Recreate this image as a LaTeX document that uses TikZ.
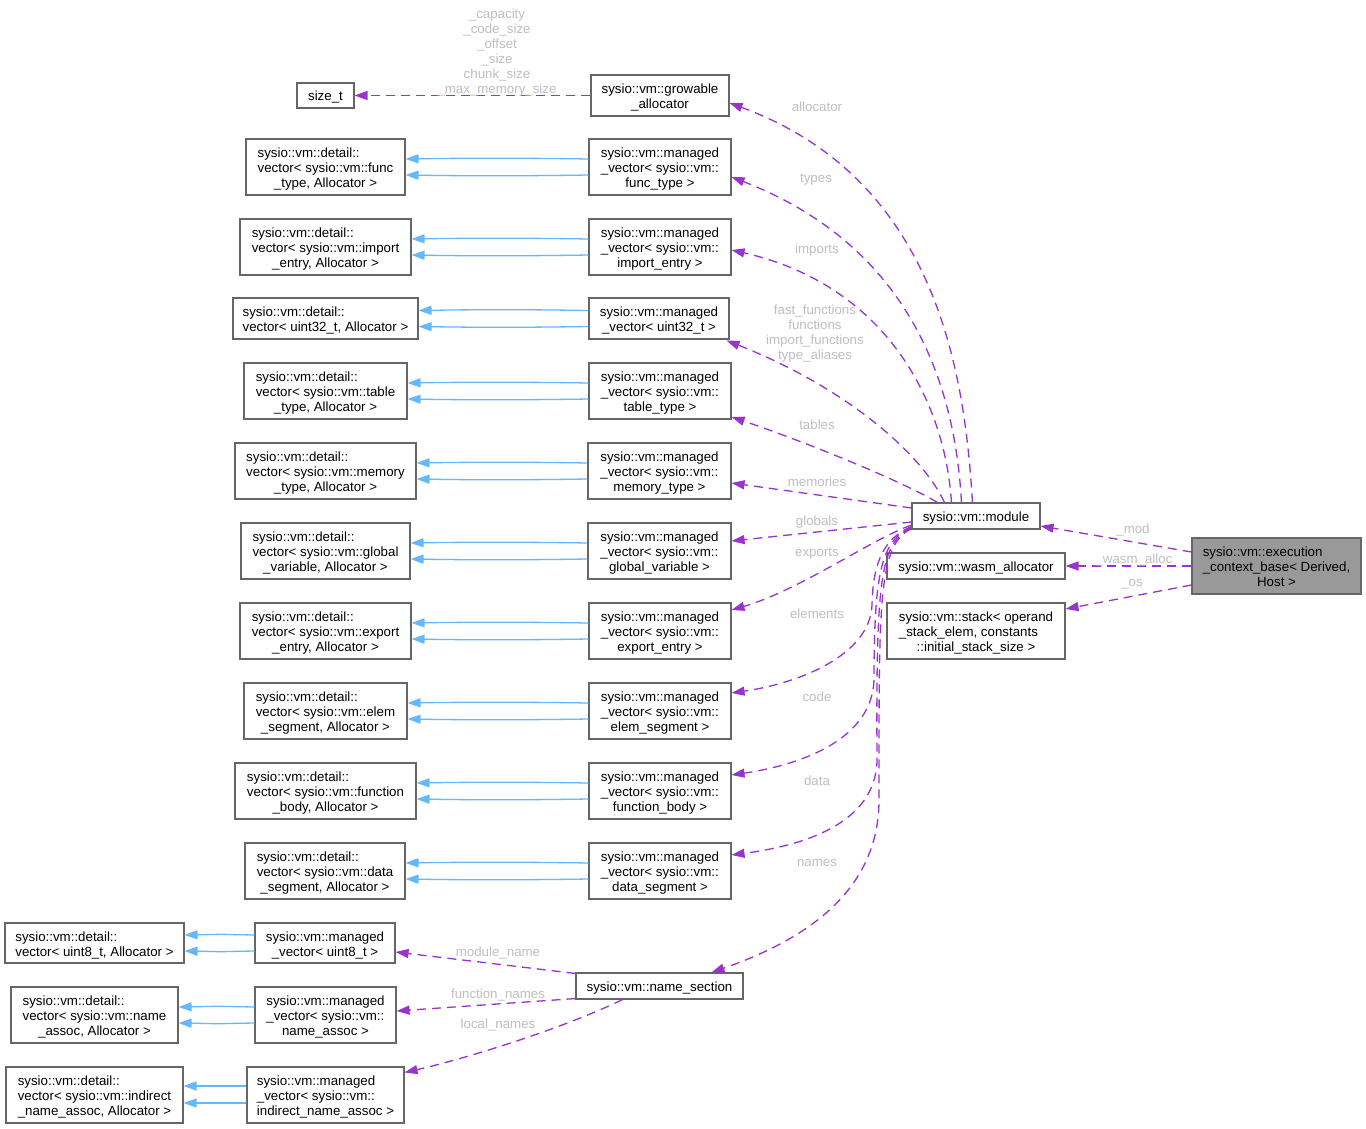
\documentclass[tikz,border=0pt]{standalone}
\usepackage{fontspec}
\setmainfont{Liberation Sans}
\usetikzlibrary{arrows.meta}
\definecolor{edgep}{HTML}{9A32CD}
\definecolor{edgeb}{HTML}{63B8FF}
\definecolor{lblc}{HTML}{BFBFBF}
\definecolor{bord}{HTML}{666666}
\definecolor{rootfill}{HTML}{999999}
\newcommand{\dlab}[2]{\raisebox{-2.5pt}[\height][\depth]{\begin{tabular}{@{}l@{}}#1\\\multicolumn{1}{@{}c@{}}{#2}\end{tabular}}}
\newcommand{\one}[1]{\raisebox{-2pt}[\height][\depth]{#1}}
\begin{document}
\begin{tikzpicture}[x=1pt,y=-1pt,
  box/.style={draw=bord, line width=1.1pt, fill=white, inner sep=0pt, font=\fontsize{13.3}{15}\selectfont, text=black},
  lab/.style={text=lblc, inner sep=0pt, font=\fontsize{13.3}{15}\selectfont, align=center},
  uses/.style={draw=edgep, line width=1.3pt, dash pattern=on 9pt off 6pt, -{Triangle[length=13pt,width=9pt]}},
  inh/.style={draw=edgeb, line width=1.3pt, -{Triangle[length=13pt,width=9pt]}},
  b56/.style={box, minimum height=56pt},
  b41/.style={box, minimum height=41pt},
  b26/.style={box, minimum height=26pt}
]
\fill[white] (0,0) rectangle (1366,1129);
\useasboundingbox (0,0) rectangle (1366,1129);

% nodes
\node[box, minimum width=57pt, minimum height=25pt] (sz) at (325.5,95.5) {\one{size\_t}};
\node[b41, minimum width=138pt] (ga) at (660,95.5) {\dlab{sysio::vm::growable}{\_allocator}};

\node[b56, minimum width=159pt] (d1) at (325.5,167) {\dlab{sysio::vm::detail::\\vector< sysio::vm::func}{\_type, Allocator >}};
\node[b56, minimum width=142pt] (m1) at (660,167) {\dlab{sysio::vm::managed\\\_vector< sysio::vm::}{func\_type >}};
\node[b56, minimum width=171pt] (d2) at (325.5,247) {\dlab{sysio::vm::detail::\\vector< sysio::vm::import}{\_entry, Allocator >}};
\node[b56, minimum width=142pt] (m2) at (660,247) {\dlab{sysio::vm::managed\\\_vector< sysio::vm::}{import\_entry >}};
\node[b41, minimum width=185pt] (d3) at (325.5,318.5) {\dlab{sysio::vm::detail::}{vector< uint32\_t, Allocator >}};
\node[b41, minimum width=140pt] (m3) at (659,318.5) {\dlab{sysio::vm::managed}{\_vector< uint32\_t >}};
\node[b56, minimum width=163pt] (d4) at (325.5,391) {\dlab{sysio::vm::detail::\\vector< sysio::vm::table}{\_type, Allocator >}};
\node[b56, minimum width=142pt] (m4) at (660,391) {\dlab{sysio::vm::managed\\\_vector< sysio::vm::}{table\_type >}};
\node[b56, minimum width=181pt] (d5) at (325.5,471) {\dlab{sysio::vm::detail::\\vector< sysio::vm::memory}{\_type, Allocator >}};
\node[b56, minimum width=143pt] (m5) at (659.5,471) {\dlab{sysio::vm::managed\\\_vector< sysio::vm::}{memory\_type >}};
\node[b56, minimum width=169pt] (d6) at (325.5,551) {\dlab{sysio::vm::detail::\\vector< sysio::vm::global}{\_variable, Allocator >}};
\node[b56, minimum width=143pt] (m6) at (659.5,551) {\dlab{sysio::vm::managed\\\_vector< sysio::vm::}{global\_variable >}};
\node[b56, minimum width=171pt] (d7) at (325.5,631) {\dlab{sysio::vm::detail::\\vector< sysio::vm::export}{\_entry, Allocator >}};
\node[b56, minimum width=142pt] (m7) at (660,631) {\dlab{sysio::vm::managed\\\_vector< sysio::vm::}{export\_entry >}};
\node[b56, minimum width=163pt] (d8) at (325.5,711) {\dlab{sysio::vm::detail::\\vector< sysio::vm::elem}{\_segment, Allocator >}};
\node[b56, minimum width=142pt] (m8) at (660,711) {\dlab{sysio::vm::managed\\\_vector< sysio::vm::}{elem\_segment >}};
\node[b56, minimum width=181pt] (d9) at (325.5,791) {\dlab{sysio::vm::detail::\\vector< sysio::vm::function}{\_body, Allocator >}};
\node[b56, minimum width=142pt] (m9) at (660,791) {\dlab{sysio::vm::managed\\\_vector< sysio::vm::}{function\_body >}};
\node[b56, minimum width=160pt] (d10) at (325,871) {\dlab{sysio::vm::detail::\\vector< sysio::vm::data}{\_segment, Allocator >}};
\node[b56, minimum width=142pt] (m10) at (660,871) {\dlab{sysio::vm::managed\\\_vector< sysio::vm::}{data\_segment >}};

\node[box, minimum width=179pt, minimum height=40pt] (d11) at (94.5,943) {\dlab{sysio::vm::detail::}{vector< uint8\_t, Allocator >}};
\node[box, minimum width=140pt, minimum height=40pt] (m11) at (325,943) {\dlab{sysio::vm::managed}{\_vector< uint8\_t >}};
\node[b56, minimum width=167pt] (d12) at (94.5,1015) {\dlab{sysio::vm::detail::\\vector< sysio::vm::name}{\_assoc, Allocator >}};
\node[b56, minimum width=141pt] (m12) at (325.5,1015) {\dlab{sysio::vm::managed\\\_vector< sysio::vm::}{name\_assoc >}};
\node[b56, minimum width=177pt] (d13) at (94.5,1095) {\dlab{sysio::vm::detail::\\vector< sysio::vm::indirect}{\_name\_assoc, Allocator >}};
\node[b56, minimum width=157pt] (m13) at (325.5,1095) {\dlab{sysio::vm::managed\\\_vector< sysio::vm::}{indirect\_name\_assoc >}};

\node[b26, minimum width=167pt] (ns) at (659.5,986) {\one{sysio::vm::name\_section}};
\node[b26, minimum width=128pt] (mod) at (976,516) {\one{sysio::vm::module}};
\node[b26, minimum width=178pt] (wa) at (976,566) {\one{sysio::vm::wasm\_allocator}};
\node[b56, minimum width=178pt] (st) at (976,631) {\dlab{sysio::vm::stack< operand\\\_stack\_elem, constants}{::initial\_stack\_size >}};
\node[b56, minimum width=169pt, fill=rootfill] (ec) at (1276.5,566) {\dlab{sysio::vm::execution\\\_context\_base< Derived,}{Host >}};

% inheritance (blue)
\foreach \m/\d in {m1/d1,m2/d2,m3/d3,m4/d4,m5/d5,m6/d6,m7/d7,m8/d8,m9/d9,m10/d10,m11/d11,m12/d12}{
  \draw[inh] ([yshift=8pt]\m.west) .. controls +(-60pt,1pt) and +(60pt,1pt) .. ([yshift=8pt]\d.east);
  \draw[inh] ([yshift=-8pt]\m.west) .. controls +(-60pt,-1pt) and +(60pt,-1pt) .. ([yshift=-8pt]\d.east);
}
\draw[inh] ([yshift=9pt]m13.west) -- ([yshift=9pt]d13.east);
\draw[inh] ([yshift=-8pt]m13.west) -- ([yshift=-8pt]d13.east);

% usage (purple)
\draw[uses] (ga.west) -- (sz.east);
\draw[uses] ([xshift=61pt]mod.north west) .. controls (965,380) and (940,180) .. ([yshift=-7.5pt]ga.east);
\draw[uses] ([xshift=50pt]mod.north west) .. controls (956,400) and (920,250) .. ([yshift=-10pt]m1.east);
\draw[uses] ([xshift=40pt]mod.north west) .. controls (945,400) and (885,285) .. ([yshift=-3pt]m2.east);
\draw[uses] ([xshift=33pt]mod.north west) .. controls (920,450) and (840,385) .. ([xshift=-3pt,yshift=-1pt]m3.south east);
\draw[uses] ([xshift=26pt]mod.north west) .. controls (900,480) and (800,440) .. ([yshift=-26pt]m4.east);
\draw[uses] ([yshift=8pt]mod.west) -- ([yshift=-12pt]m5.east);
\draw[uses] ([yshift=-6pt]mod.west) -- ([yshift=10pt]m6.east);
\draw[uses] ([yshift=-9pt]mod.west) .. controls (870,540) and (800,590) .. ([yshift=21pt]m7.east);
\draw[uses] ([yshift=3pt]mod.south west) .. controls (885,538) and (873,560) .. (872,605) .. controls (870,655) and (800,683) .. ([yshift=18pt]m8.east);
\draw[uses] ([yshift=2pt]mod.south west) .. controls (882,540) and (874,570) .. (874,680) .. controls (872,740) and (800,765) .. ([yshift=16pt]m9.east);
\draw[uses] ([yshift=1pt]mod.south west) .. controls (880,542) and (876,580) .. (877,760) .. controls (876,825) and (800,846) .. ([yshift=16pt]m10.east);
\draw[uses] ([yshift=1pt]mod.south west) .. controls (878,545) and (879,600) .. (879,800) .. controls (879,900) and (790,945) .. ([xshift=52pt]ns.north);

\draw[uses] ([yshift=14pt]ec.west) -- ([yshift=-10pt]mod.east);
\draw[uses] (ec.west) -- (wa.east);
\draw[uses] ([yshift=-19pt]ec.west) -- ([yshift=22pt]st.east);

\draw[uses] ([yshift=-1pt]ns.north west) -- ([yshift=-9pt]m11.east);
\draw[uses] ([yshift=1pt]ns.south west) -- ([yshift=4pt]m12.east);
\draw[uses] ([xshift=-37pt]ns.south) .. controls (560,1030) and (460,1060) .. ([yshift=-6pt]m13.north east);

% labels
\node[lab] (l0) at (497,53) {\_capacity\\\_code\_size\\\_offset\\\_size\\chunk\_size\\\_max\_memory\_size};
\node[lab] (l1) at (817,106.5) {allocator};
\node[lab] (l2) at (816,179.5) {types};
\node[lab] (l3) at (817,250.5) {imports};
\node[lab] (l4) at (815,334) {fast\_functions\\functions\\import\_functions\\type\_aliases};
\node[lab] (l5) at (817,424.5) {tables};
\node[lab] (l6) at (817,481.5) {memories};
\node[lab] (l7) at (817,522.5) {globals};
\node[lab] (l8) at (817,553.5) {exports};
\node[lab] (l9) at (817,613.5) {elements};
\node[lab] (l10) at (817,696.5) {code};
\node[lab] (l11) at (817,780.5) {data};
\node[lab] (l12) at (817,862.5) {names};
\node[lab] (l13) at (1133,529.5) {\_mod};
\node[lab] (l14) at (1134,559.5) {\_wasm\_alloc};
\node[lab] (l15) at (1132,584.5) {\_os};
\node[lab] (l16) at (498,952.5) {module\_name};
\node[lab] (l17) at (498,994.5) {function\_names};
\node[lab] (l18) at (498,1024.5) {local\_names};
\end{tikzpicture}
\end{document}
